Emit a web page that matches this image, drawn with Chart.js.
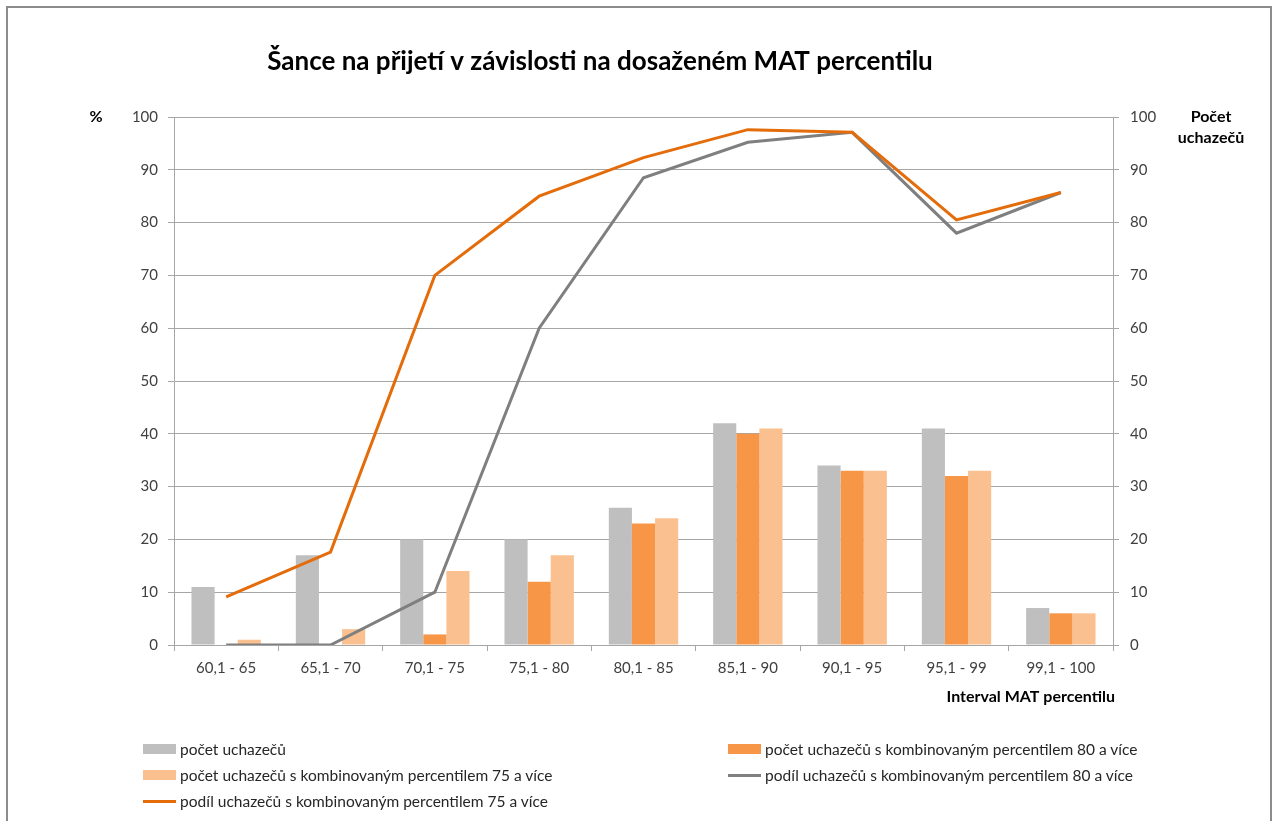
<!DOCTYPE html>
<html>
<head>
<meta charset="utf-8">
<script src="https://cdn.jsdelivr.net/npm/chart.js@4.4.1/dist/chart.umd.min.js"></script>
<style>
  html, body { margin: 0; padding: 0; background: #fff; }
  body { width: 1280px; height: 821px; position: relative; overflow: hidden; font-family: Lato, "Liberation Sans", sans-serif; }
  #frame { position: absolute; left: 6px; top: 6px; width: 1266px; height: 830px; border: 2px solid #8c8c8c; box-sizing: border-box; }
  #wrap { position: absolute; left: 0; top: 0; width: 1280px; height: 821px; }
  #legend { position: absolute; left: 0; top: 0; width: 1280px; height: 821px; pointer-events: none; }
  .item { position: absolute; display: flex; align-items: center; font-size: 15.5px; color: #262626; white-space: nowrap; }
  .swatch { width: 33px; height: 10px; margin-right: 4px; }
  .swatch.line { height: 3px; }
</style>
</head>
<body>
<div id="wrap"><canvas id="chart" width="1280" height="821"></canvas></div>
<div id="frame"></div>
<div id="legend"></div>
<script>
const categories = ["60,1 - 65", "65,1 - 70", "70,1 - 75", "75,1 - 80", "80,1 - 85", "85,1 - 90", "90,1 - 95", "95,1 - 99", "99,1 - 100"];

const pocetUchazecu = [11, 17, 20, 20, 26, 42, 34, 41, 7];
const pocet80 = [0, 0, 2, 12, 23, 40, 33, 32, 6];
const pocet75 = [1, 3, 14, 17, 24, 41, 33, 33, 6];
const podil80 = [0, 0, 10, 60, 88.5, 95.2, 97.1, 78.0, 85.7];
const podil75 = [9.1, 17.6, 70, 85, 92.3, 97.6, 97.1, 80.5, 85.7];

const axisTicks = [0, 10, 20, 30, 40, 50, 60, 70, 80, 90, 100];

const seriesNames = [
    "počet uchazečů",
    "počet uchazečů s kombinovaným percentilem 80 a více",
    "počet uchazečů s kombinovaným percentilem 75 a více",
    "podíl uchazečů s kombinovaným percentilem 80 a více",
    "podíl uchazečů s kombinovaným percentilem 75 a více"
];
const seriesColors = ["#bfbfbf", "#f79646", "#fac090", "#7f7f7f", "#e46c0a"];

const tickFont = { family: "Lato", size: 15 };
const tickColor = "#404040";
const gridColor = "#a6a6a6";

// titles and axis captions drawn on the canvas
const captions = {
    id: "captions",
    afterDraw(chart) {
        const { ctx, chartArea } = chart;
        ctx.save();
        ctx.fillStyle = "#000";
        ctx.textBaseline = "middle";
        ctx.font = "bold 26px Lato";
        ctx.textAlign = "center";
        ctx.fillText("Šance na přijetí v závislosti na dosaženém MAT percentilu", 600, 62);

        ctx.font = "bold 16px Lato";
        ctx.fillText("%", 96, chartArea.top);
        ctx.fillText("Počet", 1211, chartArea.top);
        ctx.fillText("uchazečů", 1211, chartArea.top + 21);

        ctx.textAlign = "right";
        ctx.fillText("Interval MAT percentilu", chartArea.right + 2, 697);
        ctx.restore();
    }
};

const barBase = { type: "bar", yAxisID: "y1", categoryPercentage: 0.665, barPercentage: 1, order: 2 };

const chart = new Chart(document.getElementById("chart"), {
    data: {
        labels: categories,
        datasets: [
            { ...barBase, label: seriesNames[0], data: pocetUchazecu, backgroundColor: seriesColors[0] },
            { ...barBase, label: seriesNames[1], data: pocet80, backgroundColor: seriesColors[1] },
            { ...barBase, label: seriesNames[2], data: pocet75, backgroundColor: seriesColors[2] },
            { type: "line", label: seriesNames[3], data: podil80, yAxisID: "y", borderColor: seriesColors[3], borderWidth: 3, pointRadius: 0, tension: 0, order: 1 },
            { type: "line", label: seriesNames[4], data: podil75, yAxisID: "y", borderColor: seriesColors[4], borderWidth: 3, pointRadius: 0, tension: 0, order: 0 }
        ]
    },
    options: {
        responsive: false,
        animation: false,
        layout: { padding: { top: 117, left: 0, right: 0, bottom: 0 } },
        plugins: {
            legend: { display: false },
            tooltip: { enabled: false }
        },
        scales: {
            x: {
                offset: true,
                grid: { offset: true, drawOnChartArea: false, color: gridColor, tickLength: 6 },
                border: { color: gridColor },
                ticks: { font: tickFont, color: tickColor, padding: 8, maxRotation: 0 },
                afterFit: s => { s.height = 176; }
            },
            y: {
                position: "left",
                min: 0, max: 100,
                afterBuildTicks: s => { s.ticks = axisTicks.map(v => ({ value: v })); },
                grid: { color: gridColor, tickLength: 6 },
                border: { color: gridColor },
                ticks: { font: tickFont, color: tickColor, padding: 10 },
                afterFit: s => { s.width = 174; }
            },
            y1: {
                position: "right",
                min: 0, max: 100,
                afterBuildTicks: s => { s.ticks = axisTicks.map(v => ({ value: v })); },
                grid: { drawOnChartArea: false, color: gridColor, tickLength: 6 },
                border: { color: gridColor },
                ticks: { font: tickFont, color: tickColor, padding: 11 },
                afterFit: s => { s.width = 167; }
            }
        }
    },
    plugins: [captions]
});

// legend in two columns, as in the original
const legendSlots = [
    { x: 143, y: 749 }, { x: 728, y: 749 },
    { x: 143, y: 775 }, { x: 728, y: 775 },
    { x: 143, y: 801 }
];
const legendEl = document.getElementById("legend");
chart.data.datasets.forEach((ds, i) => {
    const item = document.createElement("div");
    item.className = "item";
    item.style.left = legendSlots[i].x + "px";
    item.style.top = (legendSlots[i].y - 10) + "px";
    item.style.height = "20px";
    const sw = document.createElement("span");
    sw.className = "swatch" + (ds.type === "line" ? " line" : "");
    sw.style.background = ds.type === "line" ? ds.borderColor : ds.backgroundColor;
    const txt = document.createElement("span");
    txt.textContent = ds.label;
    item.appendChild(sw);
    item.appendChild(txt);
    legendEl.appendChild(item);
});
</script>
</body>
</html>
